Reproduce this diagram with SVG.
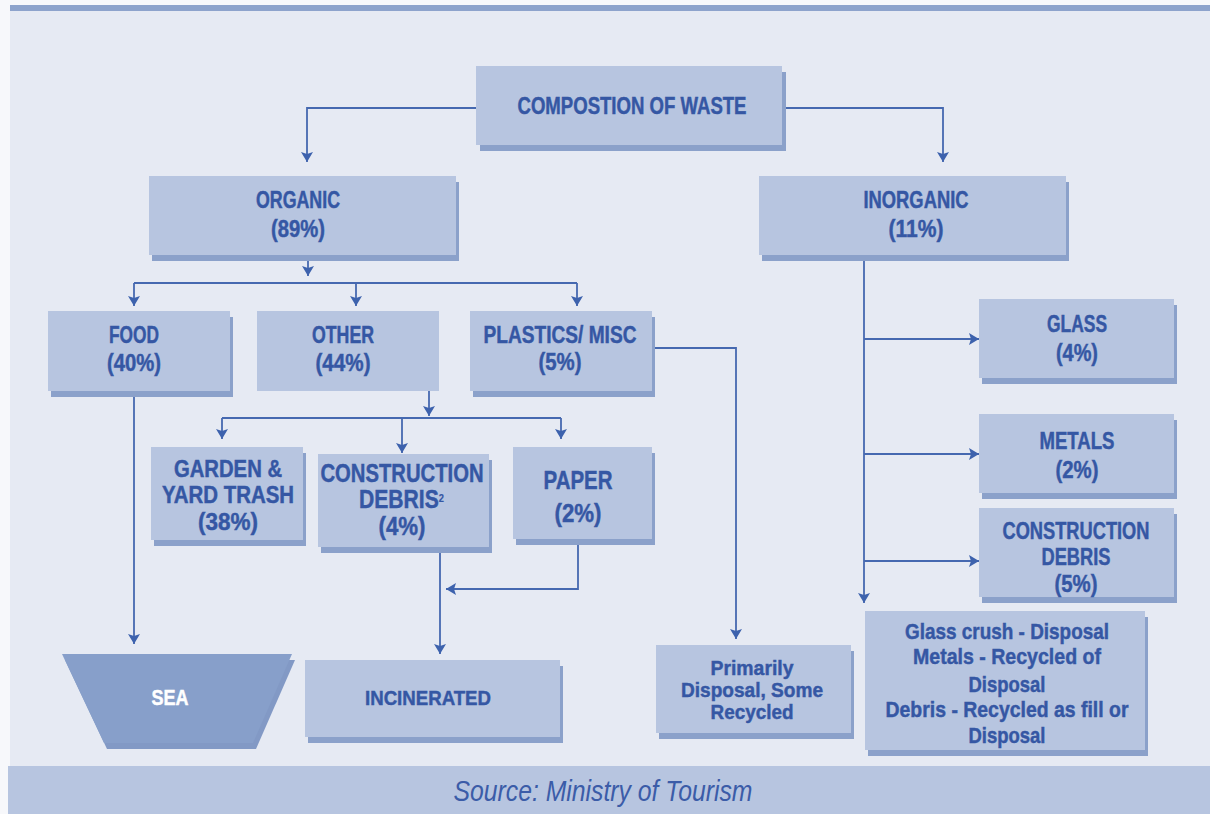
<svg xmlns="http://www.w3.org/2000/svg" width="1210" height="814" viewBox="0 0 1210 814">
<style>
.box{fill:#b7c5e0}
.sh{fill:#8ba1ca}
.t{font-family:"Liberation Sans",Arial,sans-serif;font-weight:bold;fill:#3557a4;stroke:#3557a4;stroke-width:0.45;text-anchor:middle}
.c{fill:none;stroke:#4669b0;stroke-width:1.8}
.src{font-family:"Liberation Sans",Arial,sans-serif;font-style:italic;fill:#3b5ca8;text-anchor:middle}
</style>
<defs>
<marker id="ah" viewBox="0 0 10 12" refX="10" refY="6" markerWidth="10" markerHeight="12" orient="auto" markerUnits="userSpaceOnUse">
<path d="M0,0 L10,6 L0,12 L2,6 z" fill="#3d62ad"/>
</marker>
</defs>
<rect x="0" y="0" width="1210" height="814" fill="#f7f8fb"/>
<rect x="10" y="5" width="1200" height="809" fill="#e6eaf3"/>
<rect x="10" y="5" width="1200" height="6" fill="#8da3cc"/>
<rect x="8" y="766" width="1202" height="48" fill="#b7c5e0"/>
<text class="src" x="603" y="801" font-size="29" textLength="299" lengthAdjust="spacingAndGlyphs">Source: Ministry of Tourism</text>

<g id="connectors">
<path class="c" d="M476,108 H307 V162" marker-end="url(#ah)"/>
<path class="c" d="M782,108 H943 V162" marker-end="url(#ah)"/>
<path class="c" d="M308,255 V276" marker-end="url(#ah)"/>
<path class="c" d="M134,283 H577"/>
<path class="c" d="M134,283 V306" marker-end="url(#ah)"/>
<path class="c" d="M356,283 V306" marker-end="url(#ah)"/>
<path class="c" d="M577,283 V306" marker-end="url(#ah)"/>
<path class="c" d="M134,397 V644" marker-end="url(#ah)"/>
<path class="c" d="M429,391 V416" marker-end="url(#ah)"/>
<path class="c" d="M222,418 H561"/>
<path class="c" d="M222,418 V439" marker-end="url(#ah)"/>
<path class="c" d="M402,418 V453" marker-end="url(#ah)"/>
<path class="c" d="M561,418 V439" marker-end="url(#ah)"/>
<path class="c" d="M440,547 V654" marker-end="url(#ah)"/>
<path class="c" d="M578,539 V589 H446" marker-end="url(#ah)"/>
<path class="c" d="M652,348 H736 V639" marker-end="url(#ah)"/>
<path class="c" d="M864,255 V603" marker-end="url(#ah)"/>
<path class="c" d="M864,339 H979" marker-end="url(#ah)"/>
<path class="c" d="M864,454 H979" marker-end="url(#ah)"/>
<path class="c" d="M864,561 H979" marker-end="url(#ah)"/>
</g>

<g id="composition">
<rect class="sh" x="480" y="72" width="306" height="79"/>
<rect class="box" x="476" y="66" width="306" height="79"/>
<text class="t" x="632" y="114" font-size="23" textLength="229" lengthAdjust="spacingAndGlyphs">COMPOSTION OF WASTE</text>
</g>

<g id="organic">
<rect class="sh" x="152" y="182" width="307" height="79"/>
<rect class="box" x="149" y="176" width="307" height="79"/>
<text class="t" x="298" y="208" font-size="23" textLength="84" lengthAdjust="spacingAndGlyphs">ORGANIC</text>
<text class="t" x="298" y="237" font-size="23" textLength="54" lengthAdjust="spacingAndGlyphs">(89%)</text>
</g>

<g id="inorganic">
<rect class="sh" x="762" y="182" width="307" height="79"/>
<rect class="box" x="759" y="176" width="307" height="79"/>
<text class="t" x="916" y="208" font-size="23" textLength="105" lengthAdjust="spacingAndGlyphs">INORGANIC</text>
<text class="t" x="916" y="237" font-size="23" textLength="55" lengthAdjust="spacingAndGlyphs">(11%)</text>
</g>

<g id="food">
<rect class="sh" x="51" y="317" width="182" height="80"/>
<rect class="box" x="48" y="311" width="182" height="80"/>
<text class="t" x="134" y="343" font-size="23" textLength="50" lengthAdjust="spacingAndGlyphs">FOOD</text>
<text class="t" x="134" y="371" font-size="23" textLength="54" lengthAdjust="spacingAndGlyphs">(40%)</text>
</g>

<g id="other">
<rect class="box" x="257" y="311" width="182" height="80"/>
<text class="t" x="343" y="343" font-size="23" textLength="62" lengthAdjust="spacingAndGlyphs">OTHER</text>
<text class="t" x="343" y="371" font-size="23" textLength="55" lengthAdjust="spacingAndGlyphs">(44%)</text>
</g>

<g id="plastics">
<rect class="sh" x="473" y="317" width="182" height="80"/>
<rect class="box" x="470" y="311" width="182" height="80"/>
<text class="t" x="560" y="343" font-size="23" textLength="153" lengthAdjust="spacingAndGlyphs">PLASTICS/ MISC</text>
<text class="t" x="560" y="370" font-size="23" textLength="43" lengthAdjust="spacingAndGlyphs">(5%)</text>
</g>

<g id="garden">
<rect class="sh" x="154" y="453" width="152" height="93"/>
<rect class="box" x="151" y="447" width="152" height="93"/>
<text class="t" x="228" y="477" font-size="23" textLength="108" lengthAdjust="spacingAndGlyphs">GARDEN &amp;</text>
<text class="t" x="228" y="503" font-size="23" textLength="132" lengthAdjust="spacingAndGlyphs">YARD TRASH</text>
<text class="t" x="228" y="530" font-size="23" textLength="60" lengthAdjust="spacingAndGlyphs">(38%)</text>
</g>

<g id="construction-debris-organic">
<rect class="sh" x="321" y="460" width="171" height="93"/>
<rect class="box" x="318" y="454" width="171" height="93"/>
<text class="t" x="402" y="482" font-size="25" textLength="163" lengthAdjust="spacingAndGlyphs">CONSTRUCTION</text>
<text class="t" x="359" y="508" font-size="25" style="text-anchor:start" textLength="85" lengthAdjust="spacingAndGlyphs">DEBRIS<tspan font-size="11" dy="-6" style="stroke-width:0.2">2</tspan></text>
<text class="t" x="402" y="535" font-size="25" textLength="47" lengthAdjust="spacingAndGlyphs">(4%)</text>
</g>

<g id="paper">
<rect class="sh" x="516" y="453" width="139" height="92"/>
<rect class="box" x="513" y="447" width="139" height="92"/>
<text class="t" x="578" y="489" font-size="26" textLength="69" lengthAdjust="spacingAndGlyphs">PAPER</text>
<text class="t" x="578" y="522" font-size="26" textLength="47" lengthAdjust="spacingAndGlyphs">(2%)</text>
</g>

<g id="glass">
<rect class="sh" x="982" y="305" width="195" height="79"/>
<rect class="box" x="979" y="299" width="195" height="79"/>
<text class="t" x="1077" y="332" font-size="23" textLength="60" lengthAdjust="spacingAndGlyphs">GLASS</text>
<text class="t" x="1077" y="361" font-size="23" textLength="42" lengthAdjust="spacingAndGlyphs">(4%)</text>
</g>

<g id="metals">
<rect class="sh" x="982" y="420" width="195" height="79"/>
<rect class="box" x="979" y="414" width="195" height="79"/>
<text class="t" x="1077" y="449" font-size="23" textLength="75" lengthAdjust="spacingAndGlyphs">METALS</text>
<text class="t" x="1077" y="478" font-size="23" textLength="43" lengthAdjust="spacingAndGlyphs">(2%)</text>
</g>

<g id="construction-debris-inorganic">
<rect class="sh" x="982" y="514" width="195" height="89"/>
<rect class="box" x="979" y="508" width="195" height="89"/>
<text class="t" x="1076" y="539" font-size="23" textLength="147" lengthAdjust="spacingAndGlyphs">CONSTRUCTION</text>
<text class="t" x="1076" y="565" font-size="23" textLength="69" lengthAdjust="spacingAndGlyphs">DEBRIS</text>
<text class="t" x="1076" y="592" font-size="23" textLength="43" lengthAdjust="spacingAndGlyphs">(5%)</text>
</g>

<g id="sea">
<polygon points="65,660 295,660 256,749 107,749" fill="#8299c5"/>
<polygon points="62,654 292,654 253,743 104,743" fill="#879fca"/>
<text class="t" x="170" y="705" font-size="22" style="fill:#ffffff;stroke:#ffffff" textLength="37" lengthAdjust="spacingAndGlyphs">SEA</text>
</g>

<g id="incinerated">
<rect class="sh" x="308" y="666" width="255" height="77"/>
<rect class="box" x="305" y="660" width="255" height="77"/>
<text class="t" x="428" y="705" font-size="21" textLength="126" lengthAdjust="spacingAndGlyphs">INCINERATED</text>
</g>

<g id="primarily">
<rect class="sh" x="659" y="651" width="195" height="88"/>
<rect class="box" x="656" y="645" width="195" height="88"/>
<text class="t" x="752" y="675" font-size="21" textLength="83" lengthAdjust="spacingAndGlyphs">Primarily</text>
<text class="t" x="752" y="697" font-size="21" textLength="142" lengthAdjust="spacingAndGlyphs">Disposal, Some</text>
<text class="t" x="752" y="719" font-size="21" textLength="83" lengthAdjust="spacingAndGlyphs">Recycled</text>
</g>

<g id="inorganic-fate">
<rect class="sh" x="868" y="617" width="280" height="139"/>
<rect class="box" x="865" y="611" width="280" height="139"/>
<text class="t" x="1007" y="639" font-size="22" textLength="204" lengthAdjust="spacingAndGlyphs">Glass crush - Disposal</text>
<text class="t" x="1007" y="664" font-size="22" textLength="188" lengthAdjust="spacingAndGlyphs">Metals - Recycled of</text>
<text class="t" x="1007" y="692" font-size="22" textLength="77" lengthAdjust="spacingAndGlyphs">Disposal</text>
<text class="t" x="1007" y="717" font-size="22" textLength="243" lengthAdjust="spacingAndGlyphs">Debris - Recycled as fill or</text>
<text class="t" x="1007" y="743" font-size="22" textLength="77" lengthAdjust="spacingAndGlyphs">Disposal</text>
</g>
</svg>
